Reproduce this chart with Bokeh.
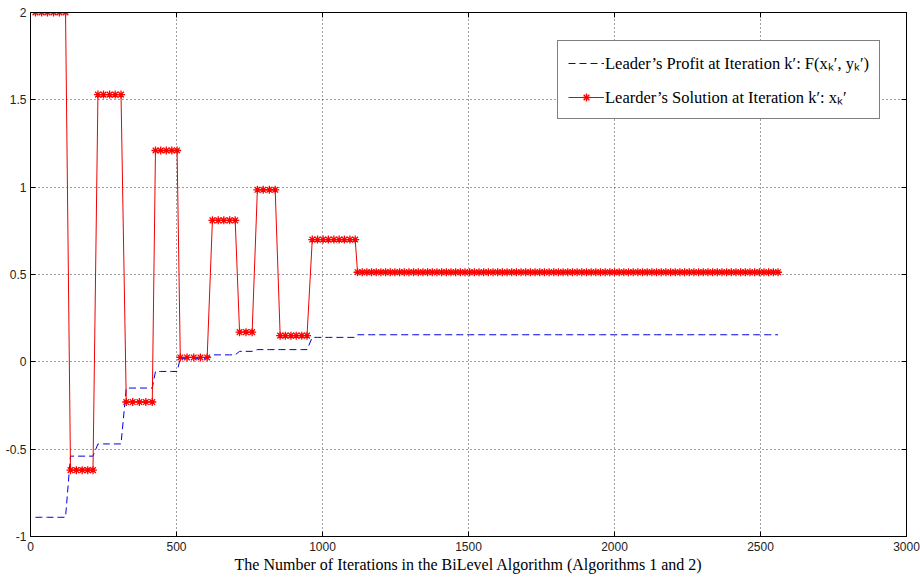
from bokeh.plotting import figure
from bokeh.models import (Range1d, FixedTicker, LinearAxis, Legend, LegendItem,
                          CustomJSTickFormatter, ColumnDataSource)
from bokeh.embed import file_html
from bokeh.resources import INLINE

# ---------------- data ----------------
# iteration numbers of the sampled points, grouped by plateau
seg_x = [
    [17, 38, 58, 79, 99, 120],
    [137, 157, 177, 196, 214],
    [231, 250, 271, 290, 310],
    [328, 350, 373, 395, 417],
    [428, 446, 465, 484, 502],
    [513, 536, 559, 582, 605],
    [623, 643, 662, 682, 701],
    [716, 738, 759],
    [777, 797, 818, 838],
    [855, 873, 892, 910, 929, 947],
    [965, 983, 1002, 1020, 1039, 1057, 1075, 1094, 1112],
    [1120, 1136, 1152, 1168, 1184, 1200, 1216, 1232, 1248, 1264, 1280, 1296,
     1312, 1328, 1344, 1360, 1376, 1392, 1408, 1424, 1440, 1456, 1472, 1488,
     1504, 1520, 1536, 1552, 1568, 1584, 1600, 1616, 1632, 1648, 1664, 1680,
     1696, 1712, 1728, 1744, 1760, 1776, 1792, 1808, 1824, 1840, 1856, 1872,
     1888, 1904, 1920, 1936, 1952, 1968, 1984, 2000, 2016, 2032, 2048, 2064,
     2080, 2096, 2112, 2128, 2144, 2160, 2176, 2192, 2208, 2224, 2240, 2256,
     2272, 2288, 2304, 2320, 2336, 2352, 2368, 2384, 2400, 2416, 2432, 2448,
     2464, 2480, 2496, 2512, 2528, 2544, 2560],
]
# leader's solution x_k' on each plateau
solution_levels = [2.0, -0.62, 1.53, -0.23, 1.21, 0.025, 0.81, 0.17, 0.985, 0.15, 0.70, 0.513]
# leader's profit F(x_k', y_k') on each plateau
profit_levels = [-0.89, -0.54, -0.47, -0.15, -0.055, 0.02, 0.04, 0.06, 0.07, 0.07, 0.14, 0.155]

x_ticks = [0, 500, 1000, 1500, 2000, 2500, 3000]
y_ticks = [-1, -0.5, 0, 0.5, 1, 1.5, 2]

label_profit = "Leader’s Profit at Iteration k′: F(xₖ′, yₖ′)"
label_solution = "Learder’s Solution at Iteration k′: xₖ′"
x_label = "The Number of Iterations in the BiLevel Algorithm (Algorithms 1 and 2)"

# build the series
xs, sol, prof = [], [], []
for pts, s, f in zip(seg_x, solution_levels, profit_levels):
    for v in pts:
        xs.append(v)
        sol.append(s)
        prof.append(f)
src = ColumnDataSource(dict(x=xs, sol=sol, prof=prof))

# ---------------- figure ----------------
p = figure(width=920, height=577, output_backend="svg", toolbar_location=None,
           x_range=Range1d(0, 3000), y_range=Range1d(-1, 2),
           min_border_left=30, min_border_right=14, min_border_top=12, min_border_bottom=41)
p.background_fill_color = "white"
p.border_fill_color = "white"
p.outline_line_color = "black"
p.outline_line_width = 1

fmt = CustomJSTickFormatter(code="return tick.toString();")

for ax in (p.xaxis[0], p.yaxis[0]):
    ax.major_tick_in = 5
    ax.major_tick_out = 0
    ax.minor_tick_line_color = None
    ax.axis_line_color = "black"
    ax.major_tick_line_color = "black"
    ax.major_label_text_font = "Liberation Sans"
    ax.major_label_text_font_size = "12px"
    ax.major_label_text_color = "#222222"
    ax.formatter = fmt

p.xaxis[0].ticker = FixedTicker(ticks=x_ticks)
p.yaxis[0].ticker = FixedTicker(ticks=y_ticks)
p.xaxis[0].major_label_standoff = 5
p.yaxis[0].major_label_standoff = 4
p.xaxis[0].axis_label = x_label
p.xaxis[0].axis_label_text_font = "Liberation Serif"
p.xaxis[0].axis_label_text_font_size = "16px"
p.xaxis[0].axis_label_text_font_style = "normal"
p.xaxis[0].axis_label_text_color = "black"
p.xaxis[0].axis_label_standoff = 2

# box ticks on top and right (MATLAB style), no labels
top_ax = LinearAxis(ticker=FixedTicker(ticks=x_ticks), major_label_text_font_size="1px",
                    major_label_text_color=None,
                    major_label_standoff=0, major_tick_in=5, major_tick_out=0,
                    minor_tick_line_color=None, axis_line_color="black")
right_ax = LinearAxis(ticker=FixedTicker(ticks=y_ticks), major_label_text_font_size="1px",
                      major_label_text_color=None,
                      major_label_standoff=0, major_tick_in=5, major_tick_out=0,
                      minor_tick_line_color=None, axis_line_color="black")
p.add_layout(top_ax, "above")
p.add_layout(right_ax, "right")

for g in (p.xgrid[0], p.ygrid[0]):
    g.grid_line_color = "black"
    g.grid_line_alpha = 0.75
    g.grid_line_dash = "1 3"
    g.grid_line_width = 1

# ---------------- series ----------------
blue = p.line("x", "prof", source=src, line_color="#0000dd", line_width=1, line_dash="7 4")
red_line = p.line("x", "sol", source=src, line_color="#ee0000", line_width=1)
red_pts = p.scatter("x", "sol", source=src, marker="asterisk", size=8,
                    line_color="#ff0000", line_width=1.3)

legend = Legend(items=[LegendItem(label=label_profit, renderers=[blue]),
                       LegendItem(label=label_solution, renderers=[red_line, red_pts])],
                location=(527, 417))
legend.label_text_font = "Liberation Serif"
legend.label_text_font_size = "16.5px"
legend.label_text_color = "black"
legend.glyph_width = 36
legend.glyph_height = 20
legend.label_standoff = 1
legend.padding = 10
legend.spacing = 11
legend.margin = 0
legend.border_line_color = "black"
legend.border_line_width = 1
legend.background_fill_color = "white"
legend.background_fill_alpha = 1
p.add_layout(legend, "center")

open("out.html", "w").write(file_html(p, INLINE))
